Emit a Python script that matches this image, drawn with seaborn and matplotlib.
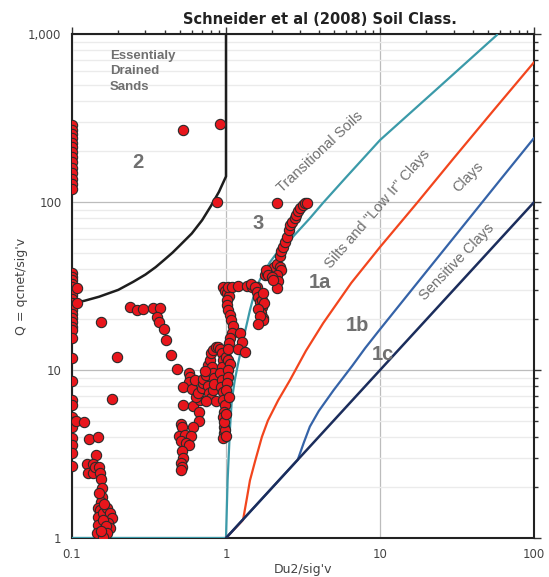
import pandas as pd
import matplotlib
matplotlib.use('Agg')
import matplotlib.pyplot as plt
import seaborn as sns
from matplotlib.ticker import LogLocator, FuncFormatter, NullFormatter

# ---- measured points (Du2/sig'v, Q) ----
du2_pts = (
    [0.1] * 14
    + [0.1] * 28
    + [0.108, 0.108, 0.107, 0.120, 0.129, 0.148, 0.143, 0.182, 0.196, 0.154]
    + [0.125, 0.127, 0.137, 0.137, 0.141, 0.150, 0.152, 0.154, 0.157, 0.157,
       0.154, 0.148, 0.152, 0.148, 0.159, 0.168, 0.176, 0.182, 0.171, 0.176,
       0.148, 0.152, 0.145, 0.159, 0.166, 0.168, 0.159, 0.150, 0.162, 0.155]
    + [0.238, 0.264, 0.289, 0.336, 0.373, 0.356, 0.367, 0.396, 0.408, 0.439, 0.481]
    + [0.575, 0.583, 0.575, 0.525, 0.600, 0.628, 0.525, 0.609, 0.678, 0.666,
       0.666, 0.609, 0.510, 0.517, 0.495, 0.541, 0.591, 0.510, 0.549, 0.575,
       0.517, 0.525, 0.510, 0.517, 0.510]
    + [0.637, 0.656, 0.698, 0.708, 0.708, 0.741, 0.752, 0.763, 0.787, 0.799,
       0.824, 0.861, 0.887, 0.914, 0.811, 0.824, 0.836, 0.730,
       0.76, 0.78, 0.80, 0.82, 0.84, 0.86, 0.74]
    + [0.942, 0.956, 0.942, 0.914, 0.942, 0.928, 0.956, 0.956, 0.985, 0.970,
       0.956, 0.970, 0.970, 0.956, 1.000, 1.030, 1.061, 1.030, 1.030, 1.015,
       1.000, 1.046, 0.985, 1.000, 0.970, 1.000]
    + [0.956, 0.985, 1.015, 1.046, 1.015, 1.015, 1.030, 1.061, 1.077, 1.110,
       1.093, 1.061, 1.046, 1.030]
    + [1.233, 1.269, 1.196, 1.332]
    + [1.030, 1.093, 1.196, 1.372, 1.470, 1.594]
    + [1.450, 1.548, 1.594, 1.618, 1.667, 1.717, 1.692, 1.743, 1.743, 1.717,
       1.743, 1.769, 1.618, 1.650, 1.620]
    + [1.796, 1.931, 2.040, 2.140, 2.240, 2.290, 2.150, 2.190, 2.150, 1.840,
       1.820, 1.880, 2.000, 2.030,
       2.240, 2.290, 2.360, 2.420, 2.470, 2.550, 2.600, 2.680, 2.800, 2.860,
       2.930, 3.020, 3.140, 3.260, 3.330]
    + [2.150, 0.870, 0.522, 0.914]
)
q_pts = (
    [287, 270, 255, 240, 226, 212, 198, 185, 172, 160, 148, 138, 128, 119]
    + [37.8, 36, 34.3, 32.5, 31, 29.5, 28, 26.5, 25.2, 24, 22.8, 21.5, 20.3, 19.2,
       18, 17.3, 15.5, 11.8, 8.6, 6.6, 6.2, 5.25, 4.9, 4.6, 3.95, 3.6, 3.2, 2.7]
    + [30.8, 25, 5.0, 4.9, 3.9, 4.0, 3.1, 6.7, 12, 19.3]
    + [2.75, 2.45, 2.75, 2.45, 2.65, 2.65, 2.44, 2.24, 1.98, 1.75,
       1.64, 1.51, 1.47, 1.33, 1.41, 1.51, 1.41, 1.31, 1.23, 1.15,
       1.2, 1.07, 1.07, 1.28, 1.18, 1.07, 1.01, 1.85, 1.6, 1.1]
    + [23.7, 22.8, 23.1, 23.4, 23.4, 20.7, 19.3, 17.5, 15.1, 12.3, 10.1]
    + [9.6, 9.1, 8.5, 7.9, 7.7, 8.7, 6.2, 6.1, 6.6, 5.6,
       5.0, 4.6, 4.8, 4.6, 4.05, 4.1, 4.05, 3.8, 3.7, 3.6,
       3.3, 3.0, 2.8, 2.65, 2.55]
    + [6.9, 7.3, 7.8, 8.4, 8.9, 9.3, 10, 10.7, 11.5, 12.6,
       13.2, 13.7, 13.7, 13.3, 10.4, 9.6, 9.0, 9.8,
       8.0, 7.3, 6.8, 7.6, 8.2, 6.5, 6.5]
    + [12.6, 11.5, 10.4, 9.6, 8.7, 7.9, 7.4, 6.6, 6.2, 5.6,
       5.25, 4.6, 4.2, 3.95, 12.0, 11.5, 10.9, 10.0, 9.1, 8.4,
       7.6, 6.9, 4.4, 4.05, 4.9, 5.5]
    + [31, 29.5, 28.7, 27.5, 26.1, 24.4, 22.8, 21.2, 19.8, 18.3,
       16.6, 15.5, 14.4, 13.4]
    + [16.6, 14.7, 13.3, 12.8]
    + [31.2, 31.2, 31.6, 31.5, 31.2, 31.2]
    + [32.3, 31.2, 29.1, 27.2, 25.4, 23.7, 21.8, 20.4, 19.8, 26.1,
       28.7, 25, 23, 21, 18.8]
    + [36.8, 39.4, 41, 43, 41, 39.4, 36.8, 33.7, 30.6, 37.6,
       39.4, 36.8, 35.8, 34.3,
       47.5, 50.9, 54.2, 57.8, 62, 68, 73, 76, 80, 83.7,
       88, 92, 96, 98.6, 99]
    + [99.2, 100.6, 268, 291]
)

# ---- zone boundaries ----
zone2_x = [0.1, 0.12, 0.15, 0.2, 0.25, 0.3, 0.35, 0.4, 0.45, 0.5, 0.6,
           0.7, 0.8, 0.9, 1.0, 1.0]
zone2_q = [25, 25.8, 27.3, 30, 33.5, 37, 41, 45.5, 50, 55, 65,
           78, 95, 115, 142, 1000]

trans_x = [0.1, 1.0, 1.024, 1.06, 1.09, 1.14, 1.2, 1.3, 1.43, 1.55, 1.667,
           1.8, 1.93, 2.18, 2.53, 3.02, 3.5, 4.27, 6.0, 10, 24, 57.5]
trans_q = [1, 1, 2.2, 4.4, 6.6, 8.7, 11, 15.5, 22.7, 30, 34.8,
           39.4, 43.9, 51, 57.8, 69, 80, 99, 140, 234, 481, 990]

silt_x = [1.0, 1.29, 1.37, 1.43, 1.55, 1.71, 1.87, 2.18, 2.6, 3.3, 4.27, 6.5,
          10, 17.4, 30, 55, 100]
silt_q = [1.0, 1.28, 1.75, 2.2, 2.9, 4.0, 5.0, 6.6, 8.7, 13, 19, 33,
          54, 99, 182, 355, 681]

clay_x = [1.0, 2.92, 3.2, 3.5, 4.0, 5.0, 6.6, 8.0, 10, 20, 40, 60, 100]
clay_q = [1.0, 2.92, 3.7, 4.6, 5.7, 7.6, 10.6, 13.5, 17.5, 38.6, 85, 135, 241]

sens_x = [1.0, 100]
sens_q = [1.0, 100]

sns.set_style("white")
plt.rcParams['font.family'] = ['DejaVu Sans']

fig, ax = plt.subplots(figsize=(5.49, 5.77), dpi=100)
fig.subplots_adjust(left=0.131, right=0.973, top=0.941, bottom=0.0676)

ax.set_xscale('log')
ax.set_yscale('log')

lines = [
    (zone2_x, zone2_q, '#1e1e1e', 1.8),
    (trans_x, trans_q, '#3b9aa9', 1.6),
    (silt_x, silt_q, '#f2451d', 1.6),
    (clay_x, clay_q, '#3563a8', 1.6),
    (sens_x, sens_q, '#1b2d5c', 1.8),
]
for xs, qs, col, lw in lines:
    sns.lineplot(x=xs, y=qs, sort=False, estimator=None, color=col,
                 linewidth=lw, ax=ax, zorder=3)

pts = pd.DataFrame({"du2": du2_pts, "q": q_pts})
sns.scatterplot(data=pts, x="du2", y="q", s=55, color='#e8161c',
                edgecolor='#2a2a2a', linewidth=0.8, ax=ax, zorder=4)

ax.set_xlim(0.1, 100)
ax.set_ylim(1, 1000)

for axis in (ax.xaxis, ax.yaxis):
    axis.set_major_locator(LogLocator(base=10))
    axis.set_minor_locator(LogLocator(base=10, subs=range(2, 10)))
    axis.set_minor_formatter(NullFormatter())
ax.xaxis.set_major_formatter(FuncFormatter(lambda v, p: f"{v:g}"))
ax.yaxis.set_major_formatter(FuncFormatter(lambda v, p: f"{v:,.0f}"))

ax.grid(True, which='major', color='#bcbcbc', linewidth=0.9, zorder=0)
ax.yaxis.grid(True, which='minor', color='#ebebeb', linewidth=1.0)
ax.set_axisbelow(True)

ax.tick_params(which='major', direction='out', length=5, width=1,
               color='#333333', top=True, right=True, labelsize=8.5,
               labelcolor='#444444', pad=2.5)
ax.tick_params(which='minor', direction='out', length=3, width=1,
               color='#333333', top=True, right=True)
for sp in ax.spines.values():
    sp.set_color('#222222')
    sp.set_linewidth(1.5)

ax.set_title("Schneider et al (2008) Soil Class.", fontsize=10.5,
             fontweight='bold', color='#222222', pad=7, x=0.537)
ax.set_xlabel("Du2/sig'v", fontsize=9, color='#444444', labelpad=1)
ax.set_ylabel("Q = qcnet/sig'v", fontsize=9, color='#444444', labelpad=0)

gray = '#707070'
lab = dict(family=['Liberation Sans', 'DejaVu Sans'], color=gray)
ax.text(0.177, 800, "Essentialy\nDrained\nSands", fontsize=9.5,
        fontweight='bold', va='top', ha='left', linespacing=1.35, **lab)
for txt, xv, yv in [("2", 0.268, 171), ("3", 1.61, 75), ("1a", 4.07, 33),
                    ("1b", 7.1, 18.5), ("1c", 10.4, 12.3)]:
    ax.text(xv, yv, txt, fontsize=14.5, fontweight='bold', ha='center',
            va='center', **lab)
for txt, xv, yv, rot in [("Transitional Soils", 4.07, 199, 43),
                         ('Silts and "Low Ir" Clays', 9.7, 91, 49),
                         ("Clays", 37.2, 141, 45),
                         ("Sensitive Clays", 31.6, 44, 46)]:
    ax.text(xv, yv, txt, fontsize=10.5, rotation=rot, ha='center',
            va='center', rotation_mode='anchor', **lab)

plt.savefig("out.png", dpi=100)
plt.close()
